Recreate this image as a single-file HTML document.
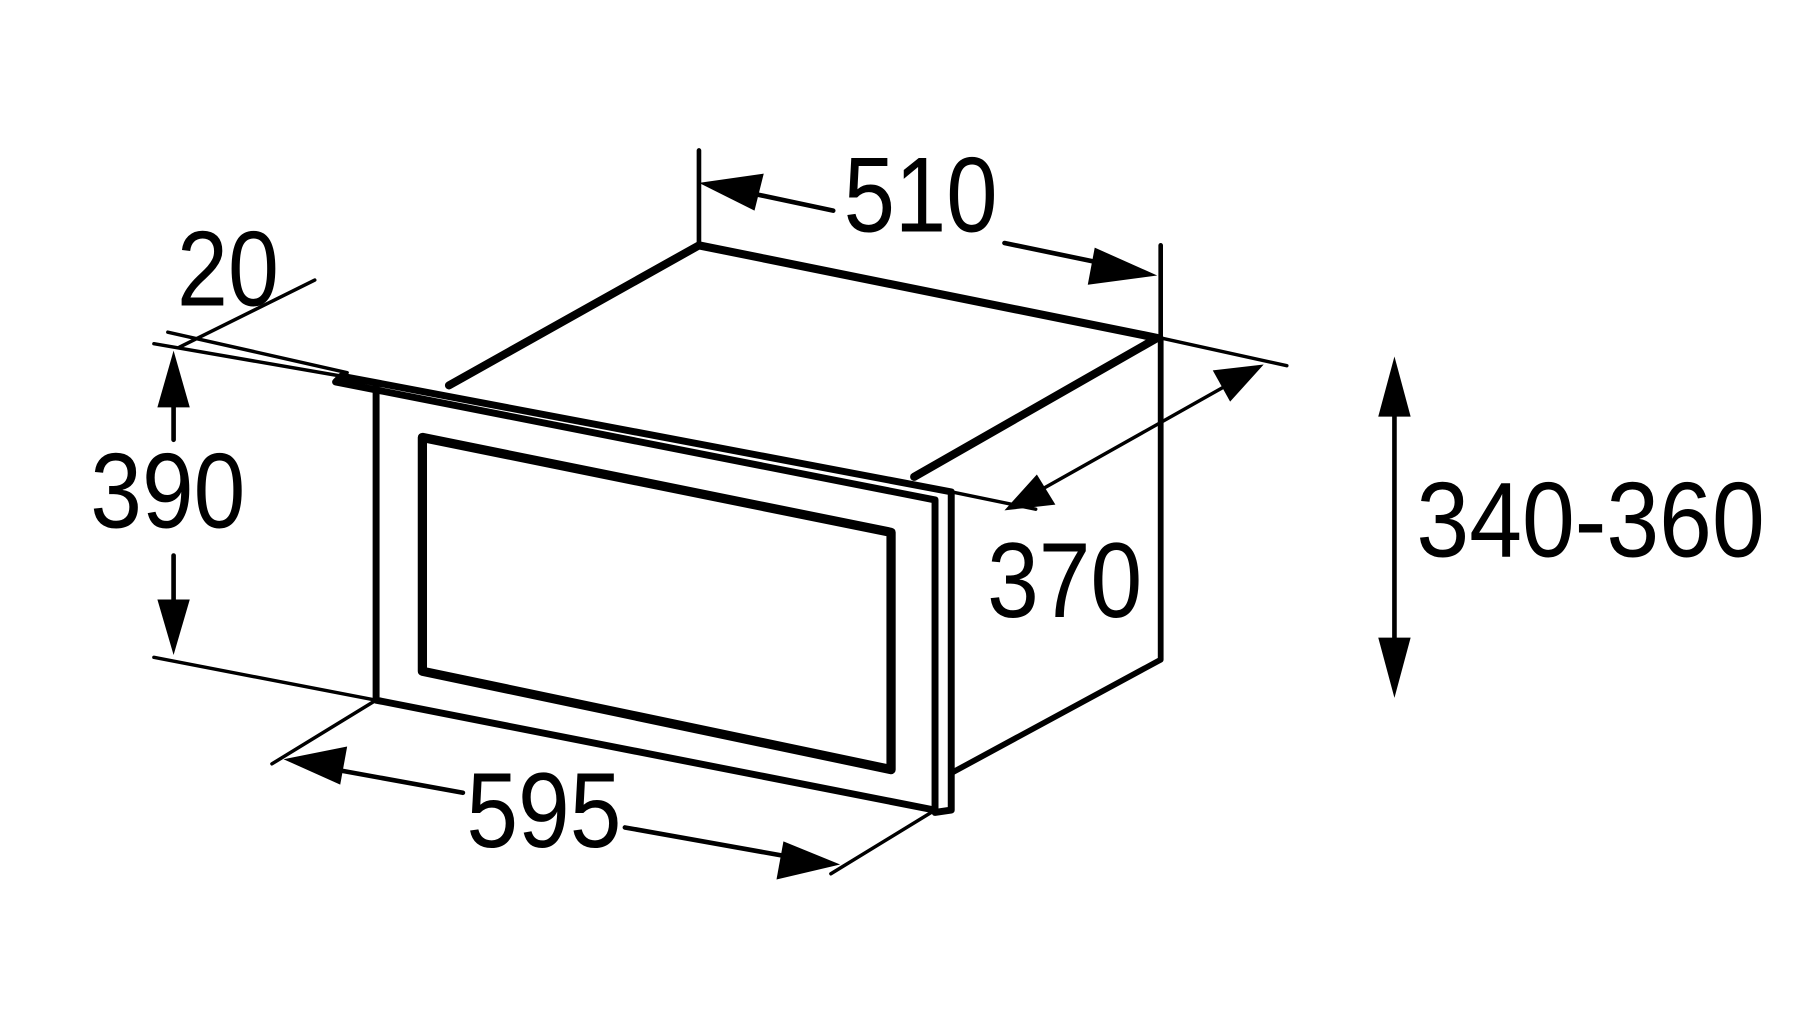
<!DOCTYPE html>
<html><head><meta charset="utf-8"><style>
html,body{margin:0;padding:0;background:#fff;}
svg{display:block;}
text{font-family:"Liberation Sans",Arial,sans-serif;fill:#000;}
</style></head><body>
<svg width="1796" height="1030" viewBox="0 0 1552 890" preserveAspectRatio="none">
<g stroke="#000" fill="none" stroke-linecap="round" stroke-linejoin="round">
<!-- top face -->
<path d="M388,333 L604,212 L1000,292 L790,412" stroke-width="7"/>
<!-- right side -->
<path d="M1003,292 L1003,570 L822,668" stroke-width="5"/>
<!-- front strip top -->
<path d="M295,325 L822,425 L822,700 L808,702 L808,432 L290,330 Z" stroke-width="6"/>
<path d="M330,330 L815,425" stroke-width="2"/>
<!-- front frame -->
<path d="M325,333 L325,605 L808,700" stroke-width="6"/>
<!-- window -->
<path d="M365,378 L770,460 L770,665 L365,580 Z" stroke-width="8"/>
<!-- extension lines -->
<path d="M604,130 L604,212" stroke-width="4"/>
<path d="M1003,212 L1003,292" stroke-width="4"/>
<path d="M1003,292 L1112,316" stroke-width="3"/>
<path d="M822,425 L895,440" stroke-width="3"/>
<path d="M133,297 L295,325" stroke-width="3"/>
<path d="M145,287 L300,322" stroke-width="3"/>
<path d="M272,242 L155,300" stroke-width="3"/>
<path d="M133,568 L325,605" stroke-width="3"/>
<path d="M325,605 L235,660" stroke-width="3"/>
<path d="M808,700 L718,755" stroke-width="3"/>
<!-- dimension lines -->
<path d="M640,165 L720,182" stroke-width="4"/>
<path d="M868,210 L955,228" stroke-width="4"/>
<path d="M150,345 L150,380" stroke-width="4"/>
<path d="M150,480 L150,525" stroke-width="4"/>
<path d="M1205,355 L1205,555" stroke-width="4"/>
<path d="M1060,333 L900,423" stroke-width="3"/>
<path d="M290,665 L400,685" stroke-width="4"/>
<path d="M540,715 L680,740" stroke-width="4"/>
</g>
<g fill="#000">
<polygon points="604,158 660,150 652,182"/>
<polygon points="1000,238 946,214 940,246"/>
<polygon points="150,303 136,352 164,352"/>
<polygon points="150,566 136,518 164,518"/>
<polygon points="1205,308 1191,360 1219,360"/>
<polygon points="1205,603 1191,551 1219,551"/>
<polygon points="1092,315 1048,320 1063,347"/>
<polygon points="868,441 896,410 912,436"/>
<polygon points="245,656 300,645 294,678"/>
<polygon points="726,747 677,727 671,760"/>
</g>
<g font-size="92">
<text x="729" y="200" textLength="133" lengthAdjust="spacingAndGlyphs">510</text>
<text x="153" y="264" textLength="88" lengthAdjust="spacingAndGlyphs">20</text>
<text x="78" y="456" textLength="134" lengthAdjust="spacingAndGlyphs">390</text>
<text x="853" y="533" textLength="134" lengthAdjust="spacingAndGlyphs">370</text>
<text x="1224" y="481" textLength="301" lengthAdjust="spacingAndGlyphs">340-360</text>
<text x="403" y="732" textLength="134" lengthAdjust="spacingAndGlyphs">595</text>
</g>
</svg>
</body></html>
